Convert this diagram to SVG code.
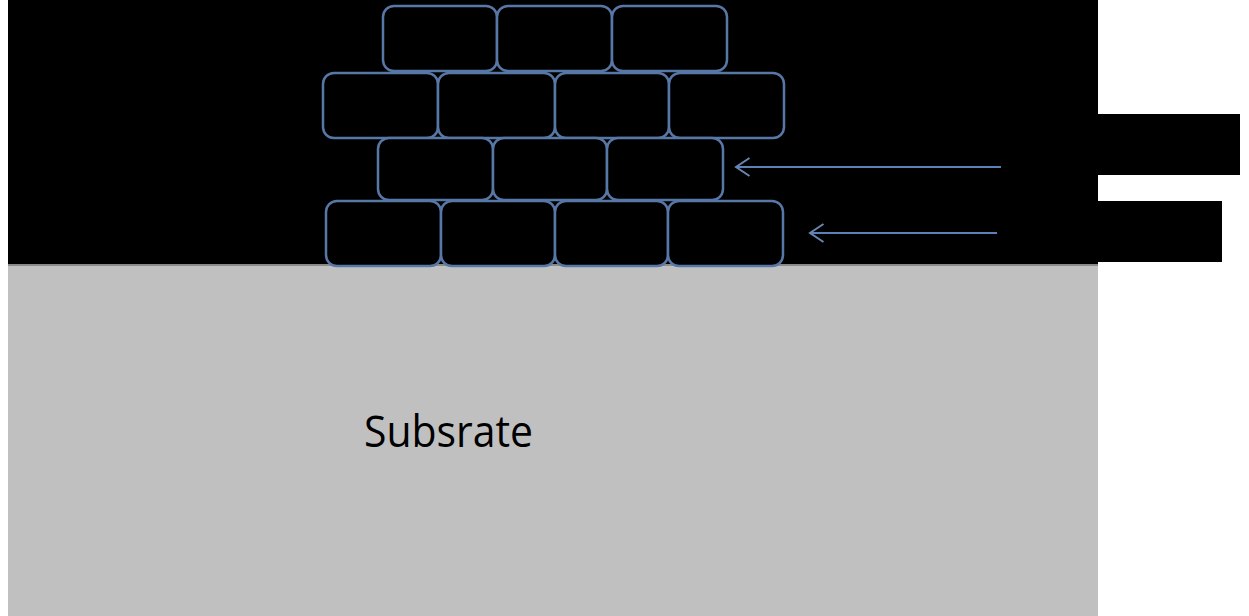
<svg xmlns="http://www.w3.org/2000/svg" width="1249" height="616" viewBox="0 0 1249 616">
  <style>
    .brick { fill: #000000; stroke: #5777a6; stroke-width: 2.5; }
    .arrow { stroke: #5b82b8; stroke-width: 2.2; fill: none; }
    .label { font-family: "Open Sans", "Liberation Sans", sans-serif; font-size: 44px; fill: #000000; }
  </style>
  <defs>
    <!-- open chevron head, tip at the line end -->
    <marker id="chev" viewBox="0 0 20 24" refX="18" refY="12" markerWidth="18" markerHeight="22" markerUnits="userSpaceOnUse" orient="auto">
      <path d="M3,2 L18,12 L3,22" fill="none" stroke="#6a86b0" stroke-width="2.2"/>
    </marker>
  </defs>

  <rect width="1249" height="616" fill="#ffffff"/>

  <!-- film layer and substrate -->
  <g id="film">
    <rect x="8" y="0" width="1090" height="265" fill="#000000"/>
  </g>
  <g id="substrate">
    <rect x="8" y="265" width="1090" height="351" fill="#c0c0c0"/>
    <rect x="8" y="264" width="1090" height="2" fill="#8a8a8a"/>
    <text class="label" x="364" y="447" textLength="169" lengthAdjust="spacingAndGlyphs">Subsrate</text>
  </g>

  <!-- blocks on the right -->
  <g id="tag-upper">
    <rect x="1098" y="114" width="142" height="61" fill="#000000"/>
  </g>
  <g id="tag-lower">
    <rect x="1098" y="201" width="124" height="61" fill="#000000"/>
  </g>

  <!-- brick rows -->
  <g id="row1">
    <rect class="brick" x="383" y="6" width="114" height="65" rx="11"/>
    <rect class="brick" x="497" y="6" width="115" height="65" rx="11"/>
    <rect class="brick" x="612" y="6" width="115" height="65" rx="11"/>
  </g>
  <g id="row2">
    <rect class="brick" x="323" y="73" width="115" height="65" rx="11"/>
    <rect class="brick" x="438" y="73" width="117" height="65" rx="11"/>
    <rect class="brick" x="555" y="73" width="114" height="65" rx="11"/>
    <rect class="brick" x="669" y="73" width="115" height="65" rx="11"/>
  </g>
  <g id="row3">
    <rect class="brick" x="378" y="138" width="115" height="62" rx="11"/>
    <rect class="brick" x="493" y="138" width="114" height="62" rx="11"/>
    <rect class="brick" x="607" y="138" width="116" height="62" rx="11"/>
  </g>
  <g id="row4">
    <rect class="brick" x="326" y="201" width="115" height="65" rx="11"/>
    <rect class="brick" x="441" y="201" width="114" height="65" rx="11"/>
    <rect class="brick" x="555" y="201" width="113" height="65" rx="11"/>
    <rect class="brick" x="668" y="201" width="115" height="65" rx="11"/>
  </g>

  <!-- connectors -->
  <g id="connectors">
    <line class="arrow" x1="1001" y1="167" x2="736" y2="167" marker-end="url(#chev)"/>
    <line class="arrow" x1="997" y1="233" x2="810" y2="233" marker-end="url(#chev)"/>
  </g>
</svg>
